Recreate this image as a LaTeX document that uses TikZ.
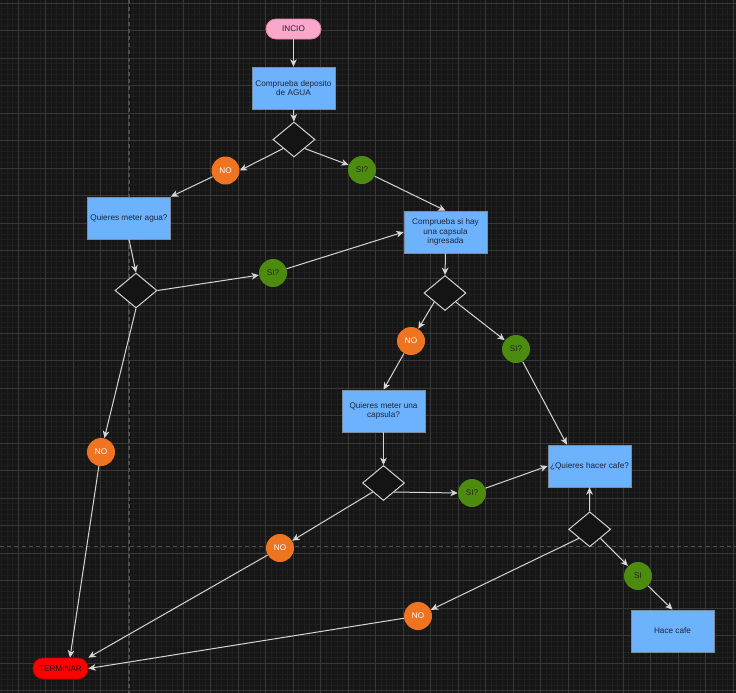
\documentclass[tikz,border=0pt]{standalone}
\usepackage{fontspec}
\setmainfont{Liberation Sans}
\usetikzlibrary{shapes.geometric,arrows.meta,calc}

% palette
\definecolor{bgcol}{HTML}{161616}
\definecolor{minorline}{HTML}{1F1F1F}
\definecolor{majorline}{HTML}{383838}
\definecolor{pageline}{HTML}{4E4E4E}
\definecolor{boxblue}{HTML}{6CB2FD}
\definecolor{boxline}{HTML}{7D8DA0}
\definecolor{txtdark}{HTML}{1E2638}
\definecolor{pinkfill}{HTML}{FBA7CB}
\definecolor{pinkline}{HTML}{D98AAB}
\definecolor{redfill}{HTML}{FF0000}
\definecolor{redline}{HTML}{B80000}
\definecolor{termtext}{HTML}{2A0808}
\definecolor{diafill}{HTML}{141414}
\definecolor{diaedge}{HTML}{D2D2D2}
\definecolor{noorange}{HTML}{EE7421}
\definecolor{sigreen}{HTML}{4C8A10}
\definecolor{sitext}{HTML}{1C2A12}
\definecolor{linegray}{HTML}{D6D6D6}

\begin{document}
\begin{tikzpicture}[x=0.75pt,y=-0.75pt,
  every node/.style={font=\fontsize{6.15pt}{7pt}\selectfont},
  minorgrid/.style={draw=minorline,line width=0.75pt},
  majorgrid/.style={draw=majorline,line width=0.75pt},
  pagebreak/.style={draw=pageline,line width=0.9pt,dash pattern=on 3pt off 2.4pt},
  procbox/.style={rectangle,draw=boxline,fill=boxblue,line width=0.5pt,
    minimum width=62.25pt,minimum height=31.5pt,inner sep=1pt,align=center,text=txtdark},
  terminal/.style={rectangle,rounded corners=7.5pt,minimum width=41.25pt,
    minimum height=15pt,inner sep=1pt,line width=0.6pt},
  decision/.style={diamond,draw=diaedge,fill=diafill,line width=0.75pt,
    minimum width=31.5pt,minimum height=26.25pt,inner sep=0pt},
  nobubble/.style={circle,fill=noorange,minimum size=21pt,inner sep=0pt,text=white},
  sibubble/.style={circle,fill=sigreen,minimum size=21pt,inner sep=0pt,text=sitext},
  flow/.style={draw=linegray,line width=0.75pt,
    -{Stealth[length=5.5pt,width=5pt,inset=1.6pt]}},
]
% canvas and grid
\fill[bgcol] (0,0) rectangle (736,693);
\useasboundingbox (0,0) rectangle (736,693);
\foreach \i in {0,...,133} \draw[minorgrid] ({1.8+5.5*\i},0) -- ({1.8+5.5*\i},693);
\foreach \j in {0,...,125} \draw[minorgrid] (0,{3.3+5.5*\j}) -- (736,{3.3+5.5*\j});
\foreach \i in {0,...,26} \draw[majorgrid] ({18.3+27.5*\i},0) -- ({18.3+27.5*\i},693);
\foreach \j in {0,...,25} \draw[majorgrid] (0,{3.3+27.5*\j}) -- (736,{3.3+27.5*\j});
\draw[pagebreak] (129,0) -- (129,693);
\draw[pagebreak] (0,546.7) -- (736,546.7);

% nodes
\node[terminal,fill=pinkfill,draw=pinkline,text=txtdark] (start) at (293.5,29) {INCIO};
\node[procbox] (chkwater) at (293.5,88) {Comprueba deposito\\de AGUA};
\node[decision] (d1) at (294,139.5) {};
\node[nobubble] (no1) at (225.5,170.5) {NO};
\node[sibubble] (si1) at (362,170) {SI?};
\node[procbox] (addwater) at (129,218) {Quieres meter agua?};
\node[decision] (d2) at (136,290.5) {};
\node[sibubble] (si2) at (273,273) {SI?};
\node[procbox] (chkcap) at (445.5,232) {Comprueba si hay\\una capsula\\ingresada};
\node[decision] (d3) at (445,293) {};
\node[nobubble] (no3) at (411,341) {NO};
\node[sibubble] (si4) at (516,349) {SI?};
\node[procbox] (addcap) at (383.5,411) {Quieres meter una\\capsula?};
\node[decision] (d4) at (383.5,483) {};
\node[sibubble] (si5) at (472,493) {SI?};
\node[procbox] (wantcof) at (589.5,466) {¿Quieres hacer cafe?};
\node[decision] (d5) at (589.7,529.3) {};
\node[sibubble] (si6) at (638,576) {SI};
\node[procbox] (brew) at (672.5,631) {Hace cafe};
\node[nobubble] (no7) at (418,616) {NO};
\node[nobubble] (no8) at (280,548) {NO};
\node[nobubble] (no9) at (101,452) {NO};
\node[terminal,fill=redfill,draw=redline,text=termtext,minimum height=15.75pt]
  (stop) at (60.5,668.5) {TERMINAR};

% connectors
\draw[flow] (start.south) -- (chkwater.north);
\draw[flow] (chkwater.south) -- (d1.north);
\draw[flow] (d1.south west) -- (no1.east);
\draw[flow] (d1.south east) -- (si1);
\draw[flow] (no1) -- (addwater.north east);
\draw[flow] (addwater.south) -- (d2.north);
\draw[flow] (d2.east) -- (si2);
\draw[flow] (si2) -- (chkcap.west);
\draw[flow] (si1) -- (chkcap.north);
\draw[flow] (chkcap.south) -- (d3.north);
\draw[flow] (d3.south west) -- (no3);
\draw[flow] (d3.south east) -- (si4);
\draw[flow] (no3) -- (addcap.north);
\draw[flow] (addcap.south) -- (d4.north);
\draw[flow] (d4.south east) -- (si5.west);
\draw[flow] (si5) -- (wantcof.west);
\draw[flow] (si4) -- ($(wantcof.north west)!0.23!(wantcof.north east)$);
\draw[flow] (d5.north) -- (wantcof.south);
\draw[flow] (d5.south east) -- (si6);
\draw[flow] (si6) -- (brew.north);
\draw[flow] (d5.south west) -- (no7);
\draw[flow] (no7) -- (stop.east);
\draw[flow] (d4.south west) -- (no8);
\draw[flow] (no8) -- (stop.north east);
\draw[flow] (d2.south) -- (no9);
\draw[flow] (no9) -- ($(stop.north west)!0.67!(stop.north east)$);
\end{tikzpicture}
\end{document}
